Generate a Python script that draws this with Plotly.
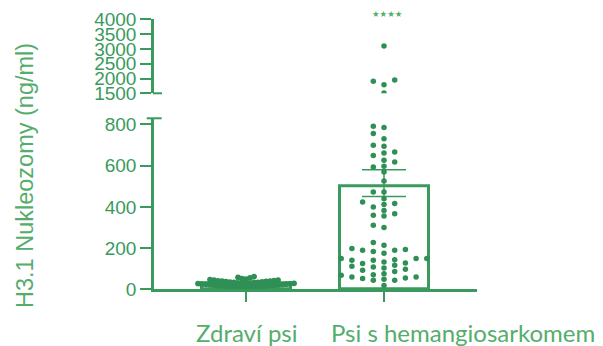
import plotly.graph_objects as go

# ---------------- data ----------------
categories = ["Zdraví psi", "Psi s hemangiosarkomem"]
bar_means = [30, 500]
err_plus = [3, 80]
err_minus = [3, 50]

healthy_values = [5, 6, 8, 9, 10, 11, 12, 13, 14, 15, 16, 17, 18, 18, 19, 20, 21, 22, 23,
                  24, 25, 25, 26, 27, 28, 28, 29, 30, 31, 32, 33, 34, 35, 36, 37, 38, 39,
                  40, 41, 42, 44, 45, 47, 49, 52, 55, 58, 62]

hsa_values = [3100, 1950, 1905, 1790, 1510,
              791, 785, 756, 731, 699, 694, 667, 662, 650, 626, 618, 597, 594, 569,
              526, 472, 472, 440, 424, 416, 411, 400, 383, 367, 359, 356, 311, 300,
              227, 214, 198, 193, 189, 189, 184, 175, 150, 149, 149, 144, 141, 141,
              133, 128, 125, 117, 112, 108, 103, 97, 92, 87, 76, 71, 68, 60, 60, 55,
              52, 49, 44, 44, 19]

y_low_ticks = [0, 200, 400, 600, 800]
y_high_ticks = [1500, 2000, 2500, 3000, 3500, 4000]
signif_label = "★★★★"
y_title = "H3.1 Nukleozomy (ng/ml)"

# ---------------- layout geometry ----------------
# the page body has an 8 px margin; positions below are given in window pixels
OFF = 8
W, H = 603 - OFF, 346 - OFF
GREEN = "#3a9a5e"
DOT = "#2f8f55"
LIGHT = "#55ad6c"


def px(X):
    return (X - OFF) / W


def py(Y):
    return 1 - (Y - OFF) / H


x_dom = [px(154), px(477)]
x_range = [-0.667, 1.674]
low_dom = [py(289.3), py(118.3)]
low_range = [0, 830]
high_dom = [py(93.3), py(19.3)]
high_range = [1500, 4000]

px_per_x = (x_dom[1] - x_dom[0]) * W / (x_range[1] - x_range[0])
px_low = (low_dom[1] - low_dom[0]) * H / (low_range[1] - low_range[0])
px_high = (high_dom[1] - high_dom[0]) * H / (high_range[1] - high_range[0])


def swarm(values, base, col_px, dmin, scale):
    placed = {}
    res = [0.0] * len(values)
    order = sorted(range(len(values)), key=lambda i: values[i])
    seq = [0]
    for n in range(1, 60):
        seq += [-n, n]
    for i in order:
        yy = (values[i] - base) * scale
        for k in seq:
            if all(abs(yy - q) >= dmin for q in placed.get(k, [])):
                placed.setdefault(k, []).append(yy)
                res[i] = k * col_px
                break
    return res


cut = low_range[1]
h_low = [v for v in hsa_values if v <= cut]
h_high = [v for v in hsa_values if v > cut]

off_healthy = swarm(healthy_values, 0, 4.0, 4.5, px_low)
off_low = swarm(h_low, 0, 10.7, 5.5, px_low)
off_high = swarm(h_high, 1500, 10.7, 5.5, px_high)

fig = go.Figure()

fig.add_trace(go.Bar(
    x=[0, 1], y=bar_means, width=0.645,
    marker=dict(color="rgba(0,0,0,0)", line=dict(color=GREEN, width=3)),
    error_y=dict(type="data", symmetric=False, array=err_plus, arrayminus=err_minus,
                 width=22, thickness=1.5, color=GREEN),
    xaxis="x", yaxis="y", showlegend=False, hoverinfo="skip"))

fig.add_trace(go.Scatter(
    x=[0 + o / px_per_x for o in off_healthy], y=healthy_values, mode="markers",
    marker=dict(size=5.8, color=DOT), xaxis="x", yaxis="y", showlegend=False))
fig.add_trace(go.Scatter(
    x=[1 + o / px_per_x for o in off_low], y=h_low, mode="markers",
    marker=dict(size=5.5, color=DOT), xaxis="x", yaxis="y", showlegend=False))
fig.add_trace(go.Scatter(
    x=[1 + o / px_per_x for o in off_high], y=h_high, mode="markers",
    marker=dict(size=5.5, color=DOT), xaxis="x", yaxis="y2", showlegend=False))

tick_font = dict(family="Liberation Sans, Arial", size=19, color=GREEN)

fig.update_layout(
    template="none",
    width=W, height=H, autosize=False,
    margin=dict(l=0, r=0, t=0, b=0, pad=0),
    paper_bgcolor="white", plot_bgcolor="rgba(0,0,0,0)",
    bargap=0,
    xaxis=dict(domain=x_dom, range=x_range, tickvals=[0, 1], showticklabels=False,
               ticks="outside", ticklen=10, tickwidth=2, tickcolor=GREEN,
               showline=True, linecolor=GREEN, linewidth=2.5, showgrid=False,
               zeroline=False, anchor="y", automargin=False),
    yaxis=dict(domain=low_dom, range=low_range, tickvals=y_low_ticks,
               ticks="outside", ticklen=11, tickwidth=2, tickcolor=GREEN,
               showline=True, linecolor=GREEN, linewidth=2.5, showgrid=False,
               zeroline=False, tickfont=tick_font, anchor="x", automargin=False),
    yaxis2=dict(domain=high_dom, range=high_range, tickvals=y_high_ticks,
                ticks="outside", ticklen=11, tickwidth=2, tickcolor=GREEN,
                showline=True, linecolor=GREEN, linewidth=2.5, showgrid=False,
                zeroline=False, tickfont=tick_font, anchor="x", automargin=False),
)

# axis break caps
fig.add_shape(type="line", xref="paper", yref="paper",
              x0=px(146.7), x1=px(161.7), y0=low_dom[1], y1=low_dom[1],
              line=dict(color=GREEN, width=2))
fig.add_shape(type="line", xref="paper", yref="paper",
              x0=px(153), x1=px(162), y0=high_dom[0], y1=high_dom[0],
              line=dict(color=GREEN, width=2))

label_font = dict(family="Lato, Noto Sans", size=24, color=LIGHT)
fig.add_annotation(x=px(247), y=py(332), xref="paper", yref="paper",
                   text=categories[0], showarrow=False, font=label_font,
                   xanchor="center", yanchor="middle")
fig.add_annotation(x=px(463), y=py(332), xref="paper", yref="paper",
                   text=categories[1], showarrow=False, font=label_font,
                   xanchor="center", yanchor="middle")
fig.add_annotation(x=px(25), y=py(176), xref="paper", yref="paper",
                   text=y_title, showarrow=False, textangle=-90,
                   font=dict(family="Liberation Sans, Arial", size=23.5, color=LIGHT),
                   xanchor="center", yanchor="middle")
fig.add_annotation(x=px(387), y=py(14), xref="paper", yref="paper",
                   text=signif_label, showarrow=False,
                   font=dict(family="DejaVu Sans", size=8.5, color=LIGHT),
                   xanchor="center", yanchor="middle")

fig.write_html("out.html")
